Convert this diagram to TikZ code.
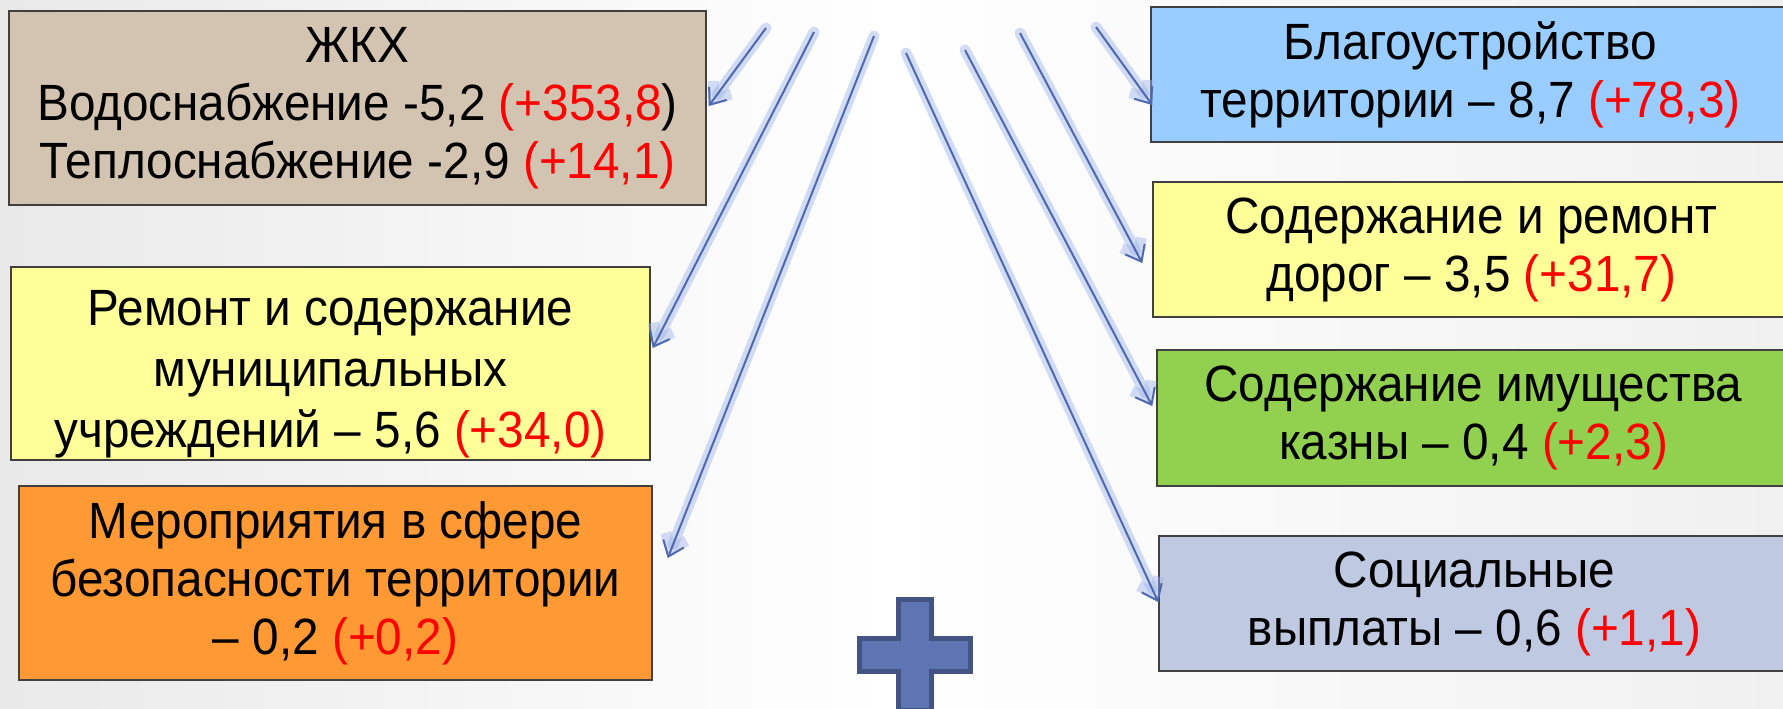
\documentclass[tikz,border=0pt]{standalone}
\usepackage{fontspec}
\setmainfont[FakeStretch=0.935]{Liberation Sans}
\usetikzlibrary{arrows.meta}
\definecolor{bgL}{HTML}{E9E9E9}
\definecolor{bgR}{HTML}{F0F0F0}
\definecolor{boxline}{HTML}{404040}
\definecolor{tanfill}{HTML}{D3C3B1}
\definecolor{yelfill}{HTML}{FFFF99}
\definecolor{orafill}{HTML}{FF9933}
\definecolor{bluefill}{HTML}{99CCFF}
\definecolor{greenfill}{HTML}{92D050}
\definecolor{greyblue}{HTML}{BFCAE2}
\definecolor{arrowblue}{HTML}{4F69B0}
\definecolor{glowblue}{HTML}{9DB3EA}
\definecolor{plusfill}{HTML}{5E75B3}
\definecolor{plusline}{HTML}{435482}
\newcommand{\rd}[1]{\textcolor{red}{#1}}
\begin{document}
\begin{tikzpicture}[x=0.5pt,y=-0.5pt,
  box/.style={draw=boxline, line width=0.75pt, align=center, inner sep=0pt,
    font=\fontsize{25.5}{29}\selectfont, text=black},
  glow/.style={draw=glowblue, line width=5.5pt, draw opacity=0.45, line cap=round, line join=round,
    -{Straight Barb[length=7pt,width=11pt]}},
  arr/.style={draw=arrowblue, line width=1pt,
    -{Straight Barb[length=7pt,width=11pt]}}]
\useasboundingbox (0,0) rectangle (1783,708);
\shade[left color=bgL, right color=bgR, middle color=white] (0,0) rectangle (1783,708);

% left boxes
\node[box, fill=tanfill, minimum width=348.5pt, minimum height=97pt] (zkh) at (357.5,108)
  {ЖКХ\\Водоснабжение -5,2 \rd{(+353,8})\\Теплоснабжение -2,9 \rd{(+14,1)}};
\node[box, fill=yelfill, minimum width=319.5pt, minimum height=96.5pt,
  font=\fontsize{25.5}{30.5}\selectfont] (remont) at (330.5,363.5)
  {\rule{0pt}{28.5pt}Ремонт и содержание\\муниципальных\\учреждений – 5,6 \rd{(+34,0)}};
\node[box, fill=orafill, minimum width=316.5pt, minimum height=97pt] (meropr) at (335.5,583)
  {Мероприятия в сфере\\безопасности территории\\– 0,2 \rd{(+0,2)}};

% right boxes
\node[box, fill=bluefill, minimum width=319.5pt, minimum height=67.5pt] (blag) at (1470.5,74.5)
  {Благоустройство\\территории – 8,7 \rd{(+78,3)}};
\node[box, fill=yelfill, minimum width=318.5pt, minimum height=67.5pt] (dorogi) at (1471.5,249.5)
  {Содержание и ремонт\\дорог – 3,5 \rd{(+31,7)}};
\node[box, fill=greenfill, minimum width=316.5pt, minimum height=68pt] (kazna) at (1473.5,418)
  {Содержание имущества\\казны – 0,4 \rd{(+2,3)}};
\node[box, fill=greyblue, minimum width=315.5pt, minimum height=67.5pt] (social) at (1474.5,603.5)
  {Социальные\\выплаты – 0,6 \rd{(+1,1)}};

% arrow start points
\coordinate (s1) at (766,28);
\coordinate (s2) at (814,32);
\coordinate (s3) at (874,36);
\coordinate (s4) at (906,53);
\coordinate (s5) at (965,50);
\coordinate (s6) at (1020,33);
\coordinate (s7) at (1096,27);
% arrow end points at the boxes
\coordinate (e1) at ([shift={(2,-2)}]zkh.east);
\coordinate (e2) at ([shift={(2,-15.5)}]remont.east);
\coordinate (e3) at ([shift={(15,-25)}]meropr.east);
\coordinate (e4) at ([shift={(0,-1.5)}]social.west);
\coordinate (e5) at ([shift={(-4,-12)}]kazna.west);
\coordinate (e6) at ([shift={(-10,13.5)}]dorogi.west);
\coordinate (e7) at ([shift={(2,30.5)}]blag.west);

\foreach \i in {1,...,7}{
  \draw[glow] (s\i) -- (e\i);
  \draw[arr] (s\i) -- (e\i);
}

% plus sign
\filldraw[fill=plusfill, draw=plusline, line width=2.5pt]
  (898.5,599.5) -- (931.5,599.5) -- (931.5,638.5) -- (970.5,638.5) -- (970.5,671.5)
  -- (931.5,671.5) -- (931.5,710.5) -- (898.5,710.5) -- (898.5,671.5) -- (859.5,671.5)
  -- (859.5,638.5) -- (898.5,638.5) -- cycle;
\end{tikzpicture}
\end{document}
